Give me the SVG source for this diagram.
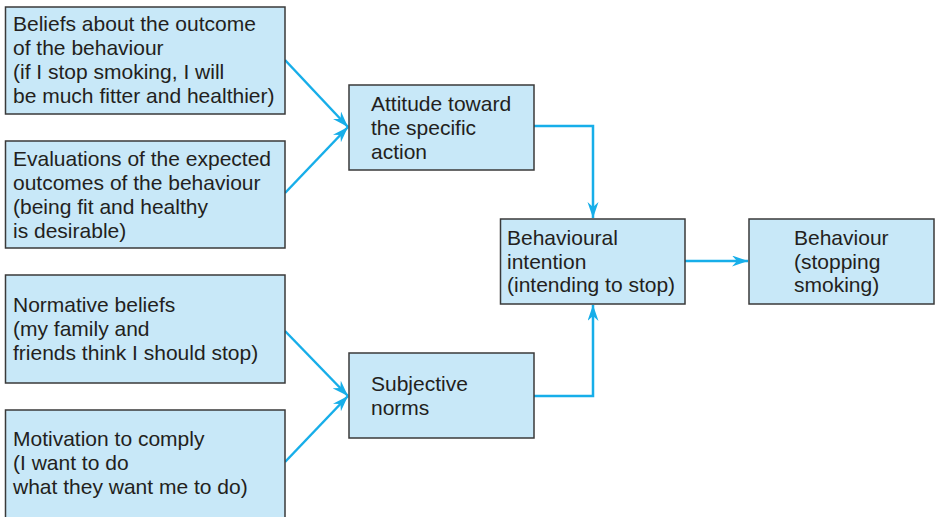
<svg xmlns="http://www.w3.org/2000/svg" width="937" height="517" viewBox="0 0 937 517">
  <style>
    .box { fill: #c8e8f8; stroke: #3a3a3a; stroke-width: 1.5; }
    .lbl { font-family: "Liberation Sans", Arial, sans-serif; font-size: 21px; fill: #231f20; }
    .link { fill: none; stroke: #17aee9; stroke-width: 2.5; marker-end: url(#arrow); }
  </style>
  <defs>
    <marker id="arrow" markerUnits="userSpaceOnUse" markerWidth="18" markerHeight="12" refX="16" refY="5.5" orient="auto">
      <path d="M0,0 L16,5.5 L0,11 L5,5.5 z" fill="#17aee9"/>
    </marker>
  </defs>
  <rect width="937" height="517" fill="#ffffff"/>

  <g id="connectors">
    <line class="link" x1="285" y1="60" x2="348" y2="127"/>
    <line class="link" x1="285" y1="193" x2="348" y2="127"/>
    <line class="link" x1="285" y1="331" x2="348" y2="396"/>
    <line class="link" x1="285" y1="462" x2="348" y2="396"/>
    <polyline class="link" points="534,126 593,126 593,218"/>
    <polyline class="link" points="534,396 593,396 593,305"/>
    <line class="link" x1="685" y1="261" x2="748" y2="261"/>
  </g>

  <g id="beliefs">
    <rect class="box" x="5.5" y="7" width="279.5" height="107"/>
    <text class="lbl" x="13" y="31">Beliefs about the outcome</text>
    <text class="lbl" x="13" y="55">of the behaviour</text>
    <text class="lbl" x="13" y="79">(if I stop smoking, I will</text>
    <text class="lbl" x="13" y="103">be much fitter and healthier)</text>
  </g>

  <g id="evaluations">
    <rect class="box" x="5.5" y="141" width="279.5" height="107"/>
    <text class="lbl" x="13" y="166">Evaluations of the expected</text>
    <text class="lbl" x="13" y="190">outcomes of the behaviour</text>
    <text class="lbl" x="13" y="214">(being fit and healthy</text>
    <text class="lbl" x="13" y="238">is desirable)</text>
  </g>

  <g id="normative">
    <rect class="box" x="5.5" y="275" width="279.5" height="108"/>
    <text class="lbl" x="13" y="312">Normative beliefs</text>
    <text class="lbl" x="13" y="336">(my family and</text>
    <text class="lbl" x="13" y="360">friends think I should stop)</text>
  </g>

  <g id="motivation">
    <rect class="box" x="5.5" y="410" width="279.5" height="112"/>
    <text class="lbl" x="13" y="446">Motivation to comply</text>
    <text class="lbl" x="13" y="470">(I want to do</text>
    <text class="lbl" x="13" y="494">what they want me to do)</text>
  </g>

  <g id="attitude">
    <rect class="box" x="349" y="85" width="185" height="85"/>
    <text class="lbl" x="371" y="111">Attitude toward</text>
    <text class="lbl" x="371" y="135">the specific</text>
    <text class="lbl" x="371" y="159">action</text>
  </g>

  <g id="subjective">
    <rect class="box" x="349" y="353" width="185" height="85"/>
    <text class="lbl" x="371" y="391">Subjective</text>
    <text class="lbl" x="371" y="415">norms</text>
  </g>

  <g id="intention">
    <rect class="box" x="500.5" y="219" width="184.5" height="85"/>
    <text class="lbl" x="507" y="245">Behavioural</text>
    <text class="lbl" x="507" y="269">intention</text>
    <text class="lbl" x="507" y="292">(intending to stop)</text>
  </g>

  <g id="behaviour">
    <rect class="box" x="749" y="219" width="185" height="85"/>
    <text class="lbl" x="794" y="245">Behaviour</text>
    <text class="lbl" x="794" y="269">(stopping</text>
    <text class="lbl" x="794" y="292">smoking)</text>
  </g>
</svg>
